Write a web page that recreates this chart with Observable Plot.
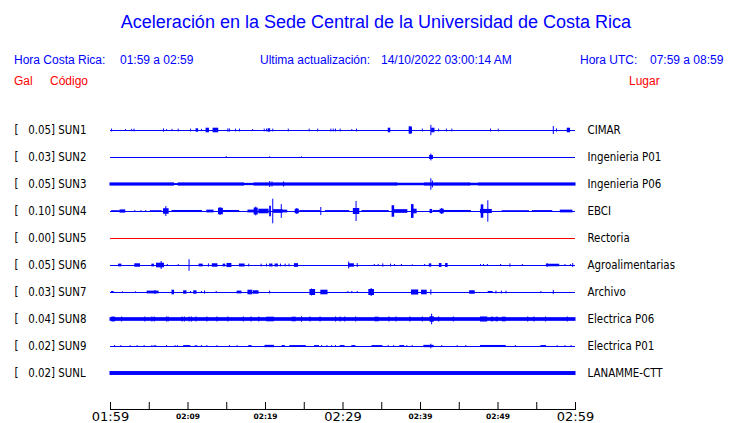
<!DOCTYPE html>
<html><head><meta charset="utf-8">
<script src="https://cdn.jsdelivr.net/npm/d3@7"></script>
<script src="https://cdn.jsdelivr.net/npm/@observablehq/plot@0.6"></script>
<style>
body{margin:0;background:#fff;}
#wrap{position:relative;width:740px;height:423px;overflow:hidden;background:#fff;}
.h{position:absolute;font-family:"Liberation Sans",Arial,sans-serif;white-space:pre;line-height:1;}
.b{color:#0000ff;font-size:12px;}
.r{color:#ff0000;font-size:12px;}
#chart{position:absolute;left:0;top:100px;}
</style></head><body><div id="wrap">
<div class="h" style="left:0;width:752px;text-align:center;top:13px;font-size:18px;color:#0000ff">Aceleración en la Sede Central de la Universidad de Costa Rica</div>
<div class="h b" style="left:14px;top:54px">Hora Costa Rica:</div>
<div class="h b" style="left:120px;top:54px">01:59 a 02:59</div>
<div class="h b" style="left:260px;top:54px">Ultima actualización:</div>
<div class="h b" style="left:381px;top:54px">14/10/2022 03:00:14 AM</div>
<div class="h b" style="left:580px;top:54px">Hora UTC:</div>
<div class="h b" style="left:650px;top:54px">07:59 a 08:59</div>
<div class="h r" style="left:14px;top:75px">Gal</div>
<div class="h r" style="left:50px;top:75px">Código</div>
<div class="h r" style="left:629px;top:75px">Lugar</div>
<div id="chart"></div>
</div>
<script>
// Stations
const stations = ["SUN1","SUN2","SUN3","SUN4","SUN5","SUN6","SUN7","SUN8","SUN9","SUNL"];
const places = ["CIMAR","Ingenieria P01","Ingenieria P06","EBCI","Rectoria","Agroalimentarias","Archivo","Electrica P06","Electrica P01","LANAMME-CTT"];
const peakGal = [0.05,0.03,0.05,0.10,0.00,0.05,0.03,0.04,0.02,0.02];

// Time axis (minutes after 01:59)
const tickMinutes = [0,5,10,15,20,25,30,35,40,45,50,55,60];
const labelMinutes = [0,10,20,30,40,50,60];
const labelTexts = ["01:59","02:09","02:19","02:29","02:39","02:49","02:59"];
const labelLarge = [true,false,false,true,false,false,true];

// Envelope segments: [start min, end min, half-amplitude Gal]
const sun1 = [[0.2,0.2,0.012],[2.0,2.0,0.008],[2.8,2.8,0.01],[3.1,3.1,0.012],[6.9,6.9,0.014],[7.3,7.3,0.008],[8.0,8.0,0.01],[8.8,8.8,0.012],[10.4,10.4,0.012],[11.1,11.3,0.015],[11.8,11.8,0.01],[12.4,12.7,0.02],[13.3,13.9,0.02],[15.2,15.2,0.014],[15.4,15.4,0.014],[16.2,16.2,0.012],[16.7,16.7,0.012],[18.4,18.4,0.008],[19.9,19.9,0.012],[20.2,20.2,0.012],[20.4,20.6,0.015],[21.0,21.0,0.012],[23.0,23.0,0.012],[25.7,25.7,0.012],[26.8,26.8,0.012],[28.5,28.5,0.012],[28.8,28.8,0.012],[29.1,29.1,0.012],[29.7,29.7,0.012],[31.2,31.2,0.008],[31.8,31.8,0.012],[35.9,36.1,0.02],[38.6,38.9,0.03],[38.7,38.7,0.035],[40.3,40.3,0.012],[41.4,41.4,0.045],[41.5,41.8,0.02],[42.4,42.4,0.012],[43.4,43.4,0.012],[44.1,44.1,0.012],[49.1,49.1,0.012],[50.1,50.1,0.012],[57.2,57.2,0.035],[57.6,57.6,0.014],[59.0,59.3,0.02]];
const sun2 = [[15.0,15.0,0.008],[20.6,20.6,0.006],[24.7,24.7,0.006],[41.25,41.6,0.018],[41.4,41.4,0.03]];
const sun3 = [[0,8.2,0.014],[8.2,8.8,0.008],[8.8,17.2,0.014],[17.2,18.6,0.01],[18.6,37.0,0.014],[37.0,40.6,0.011],[40.6,46.4,0.014],[46.4,47.6,0.011],[47.6,60,0.014],[20.6,20.6,0.026],[20.9,20.9,0.022],[22.4,22.4,0.022],[41.4,41.4,0.05],[41.6,41.6,0.03]];
const sun4 = [[0.2,1.2,0.007],[1.3,1.9,0.014],[3.2,3.2,0.008],[4.0,4.0,0.008],[4.6,4.6,0.008],[5.2,6.6,0.007],[6.9,7.5,0.024],[7.2,7.2,0.043],[8.0,11.8,0.009],[12.5,13.3,0.012],[14.0,14.5,0.028],[14.2,14.2,0.035],[14.5,16.6,0.009],[17.8,18.5,0.012],[18.6,19.0,0.03],[18.8,18.8,0.038],[19.2,20.4,0.02],[20.6,20.7,0.046],[21.0,21.0,0.107],[21.1,22.2,0.016],[22.1,22.1,0.06],[22.2,22.8,0.012],[23.9,24.3,0.02],[24.1,24.1,0.026],[24.5,27.1,0.008],[27.2,27.2,0.035],[27.8,30.8,0.008],[31.4,32.1,0.026],[31.75,31.75,0.087],[32.5,35.9,0.008],[36.4,36.6,0.05],[36.6,38.3,0.016],[38.9,39.1,0.06],[39.1,39.5,0.02],[41.3,41.5,0.018],[41.7,46.5,0.009],[42.6,43.0,0.02],[42.8,42.8,0.026],[47.9,48.1,0.058],[47.8,49.2,0.018],[48.75,48.75,0.093],[50.6,54.0,0.007],[54.5,57.0,0.008],[58.1,59.6,0.012]];
const sun5 = [];
const sun6 = [[1.1,1.4,0.012],[3.2,3.8,0.015],[5.4,5.6,0.012],[6.0,6.9,0.02],[6.6,6.6,0.035],[7.4,7.4,0.009],[8.8,8.8,0.009],[10.2,10.2,0.05],[11.5,11.9,0.012],[12.7,12.7,0.014],[13.2,13.8,0.015],[14.6,14.8,0.012],[15.1,15.6,0.018],[16.7,17.3,0.013],[17.9,17.9,0.012],[19.5,19.5,0.012],[20.2,20.2,0.012],[20.6,20.9,0.013],[21.3,21.6,0.013],[22.0,22.0,0.012],[22.6,22.6,0.012],[23.1,23.1,0.012],[23.8,24.2,0.016],[30.8,31.4,0.015],[30.8,30.8,0.03],[31.9,31.9,0.017],[34.1,34.1,0.009],[34.6,34.6,0.009],[35.2,35.2,0.014],[36.2,36.2,0.012],[36.7,36.7,0.009],[37.6,37.6,0.009],[39.0,39.0,0.006],[40.6,40.6,0.009],[41.2,41.4,0.014],[42.5,42.7,0.017],[43.3,43.5,0.017],[47.8,47.8,0.009],[48.2,48.2,0.009],[48.7,48.7,0.009],[50.4,50.4,0.009],[51.6,51.6,0.014],[53.2,53.2,0.009],[56.3,57.9,0.011],[56.4,56.4,0.017],[58.7,58.7,0.009],[59.4,59.4,0.009],[59.7,59.7,0.017]];
const sun7 = [[0.2,0.4,0.009],[1.6,1.6,0.006],[3.3,3.3,0.006],[4.8,6.2,0.012],[5.8,5.8,0.017],[8.0,8.2,0.02],[9.5,9.8,0.015],[10.4,10.4,0.009],[10.8,11.1,0.015],[11.8,11.8,0.009],[12.2,12.2,0.014],[13.7,13.7,0.009],[16.4,16.9,0.012],[17.8,18.3,0.02],[18.5,19.1,0.015],[20.6,20.6,0.012],[25.8,26.4,0.026],[26.0,26.0,0.03],[27.2,28.0,0.02],[30.7,30.7,0.009],[31.2,31.2,0.009],[31.9,31.9,0.009],[33.4,34.0,0.026],[33.7,33.7,0.035],[38.9,39.7,0.022],[40.2,40.8,0.02],[41.4,41.4,0.023],[46.4,47.0,0.015],[48.8,49.3,0.009],[49.8,49.8,0.012],[50.5,50.5,0.012],[51.1,51.1,0.012],[55.6,55.6,0.009],[57.2,57.2,0.017]];
const sun8 = [[0,60,0.016],[0.2,0.6,0.02],[20.2,21.1,0.02],[23.5,23.9,0.02],[24.7,24.7,0.024],[34.2,34.6,0.02],[41.3,41.7,0.024],[41.5,41.5,0.046],[47.8,48.6,0.022],[49.2,49.4,0.02],[49.8,50.0,0.02],[50.6,51.0,0.02],
  [0.4,0.4,0.022],[1.5,1.5,0.022],[4.5,4.5,0.022],[5.4,5.4,0.022],[5.7,5.7,0.022],[7.3,7.3,0.022],[7.5,7.5,0.022],[9.3,9.3,0.022],[9.6,9.6,0.022],[10.2,10.2,0.022],[10.5,10.5,0.022],[11.1,11.1,0.022],[12.5,12.5,0.022],[13.8,13.8,0.022],[15.2,15.2,0.022],[17.2,17.2,0.022],[18.2,18.2,0.022],[19.2,19.2,0.022],[25.8,25.8,0.022],[27.1,27.1,0.022],[29.1,29.1,0.022],[29.7,29.7,0.022],[30.3,30.3,0.022],[31.7,31.7,0.022],[36.0,36.0,0.022],[36.9,36.9,0.022],[38.7,38.7,0.022],[40.3,40.3,0.022],[42.4,42.4,0.022],[44.3,44.3,0.022],[53.9,53.9,0.022],[54.7,54.7,0.022],[56.2,56.2,0.022],[59.0,59.0,0.022]];
const sun9 = [[9.5,10.3,0.008],[20.0,21.1,0.01],[23.2,25.2,0.008],[33.8,35.1,0.008],[40.5,41.7,0.01],[41.4,41.4,0.02],[47.8,51.0,0.009],[55.6,56.2,0.008],
  [0.6,0.6,0.008],[1.4,1.4,0.008],[2.6,2.6,0.008],[3.5,3.5,0.008],[4.4,4.4,0.008],[5.4,5.4,0.008],[5.7,5.7,0.008],[5.9,5.9,0.008],[7.3,7.3,0.008],[8.4,8.4,0.008],[8.7,8.7,0.008],[11.0,11.0,0.008],[11.2,11.2,0.008],[11.8,11.8,0.008],[12.5,12.5,0.008],[13.8,13.8,0.008],[15.4,15.4,0.008],[16.4,16.4,0.008],[17.9,18.2,0.008],[22.2,22.5,0.008],[26.4,26.9,0.008],[27.3,27.3,0.008],[28.0,28.0,0.008],[28.6,28.6,0.008],[29.1,29.1,0.008],[29.7,30.2,0.008],[31.2,31.6,0.008],[35.9,35.9,0.008],[36.6,36.6,0.008],[37.4,37.9,0.008],[38.3,38.3,0.008],[39.0,39.0,0.008],[42.8,42.8,0.008],[44.8,44.8,0.008],[45.9,45.9,0.008],[52.3,52.3,0.008],[57.7,57.7,0.008],[58.7,58.7,0.008],[59.5,59.5,0.008]];
const sunL = [[0,60,0.017]];
const traces = [sun1,sun2,sun3,sun4,sun5,sun6,sun7,sun8,sun9,sunL];

// Display gain: Gal per trace spacing
const galPerRow = 0.235;

const rows = stations.map((code, i) => ({
  row: i, code, place: places[i], peak: peakGal[i],
  color: peakGal[i] === 0 ? "#ff0000" : "#0000ff"
}));
const segs = traces.flatMap((arr, i) => arr.map(([t0, t1, a]) => ({row: i, t0, t1, a, color: rows[i].color})));
const labels = labelMinutes.map((m, i) => ({m, label: labelTexts[i], large: labelLarge[i]}));
const nb = "\u00a0";

const chart = Plot.plot({
  width: 740, height: 323,
  marginLeft: 110, marginRight: 165, marginTop: 309, marginBottom: 0,
  x: {domain: [0, 60]},
  y: {domain: [-0.5, 9.5], range: [16.5, 286.5], axis: null},
  color: {type: "identity"},
  style: {fontFamily: "'DejaVu Sans Condensed','DejaVu Sans',sans-serif", fontSize: "11.4px", background: "white", color: "black", overflow: "visible"},
  marks: [
    Plot.ruleY(rows, {y: "row", stroke: "color", strokeWidth: 1}),
    Plot.rect(segs, {x1: "t0", x2: "t1", y1: d => d.row - d.a / galPerRow, y2: d => d.row + d.a / galPerRow, fill: "color", insetLeft: -0.5, insetRight: -0.5}),
    Plot.text(rows, {y: "row", text: d => `[${nb}${nb}${nb}${d.peak.toFixed(2)}] ${d.code}`, frameAnchor: "left", dx: -96, textAnchor: "start", fill: "black"}),
    Plot.text(rows, {y: "row", text: "place", frameAnchor: "right", dx: 12, textAnchor: "start", fill: "black"}),
    Plot.axisX(tickMinutes, {anchor: "top", tickSize: 8, tickFormat: () => "", stroke: "black"}),
    Plot.frame({anchor: "top", stroke: "black"}),
    Plot.text(labels.filter(d => d.large), {x: "m", text: "label", frameAnchor: "top", lineAnchor: "middle", dy: 7.3, fontSize: 13, fontFamily: "DejaVu Sans", fill: "black"}),
    Plot.text(labels.filter(d => !d.large), {x: "m", text: "label", frameAnchor: "top", lineAnchor: "middle", dy: 6.7, fontSize: 7.5, fontWeight: "bold", fontFamily: "DejaVu Sans", fill: "black"})
  ]
});
document.getElementById("chart").appendChild(chart);
</script>
</body></html>
